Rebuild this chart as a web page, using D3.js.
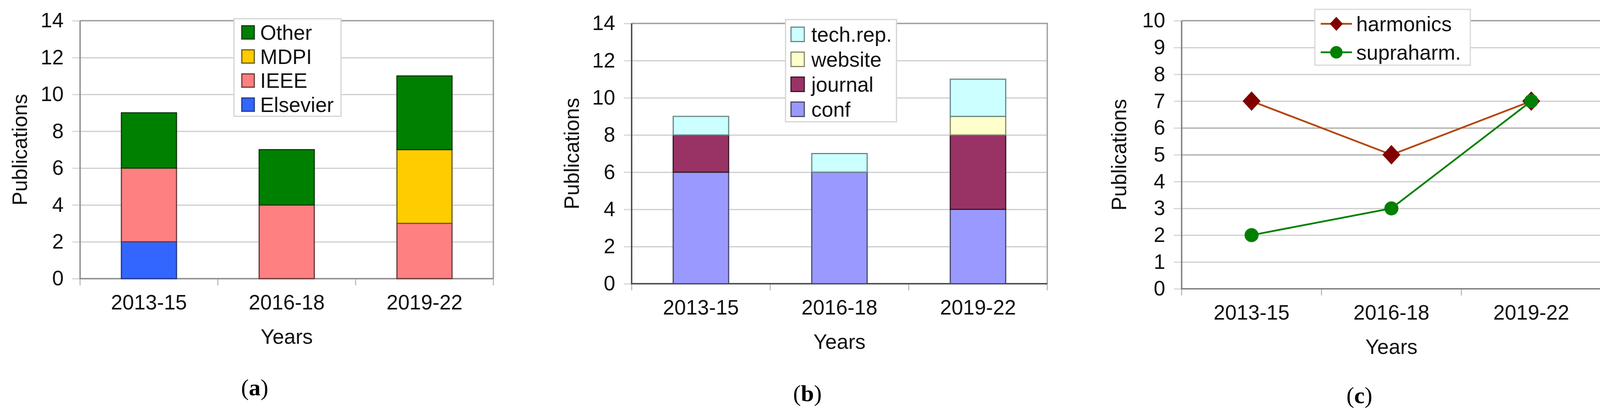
<!DOCTYPE html>
<html>
<head>
<meta charset="utf-8">
<script src="https://cdnjs.cloudflare.com/ajax/libs/d3/7.8.5/d3.min.js"></script>
<style>
  html, body { margin: 0; padding: 0; background: #fff; }
  svg { display: block; }
</style>
</head>
<body>
<div id="chart"></div>
<script>
// ---- data ----
var years = ["2013-15", "2016-18", "2019-22"];

// (a) publishers
var publisherKeys = ["Elsevier", "IEEE", "MDPI", "Other"];
var elsevier = [2, 0, 0];
var ieee     = [4, 4, 3];
var mdpi     = [0, 0, 4];
var other    = [3, 3, 4];

// (b) publication type
var typeKeys = ["conf", "journal", "website", "tech.rep."];
var conf     = [6, 6, 4];
var journal  = [2, 0, 4];
var website  = [0, 0, 1];
var techRep  = [1, 1, 2];

// (c) topic
var harmonics = [7, 5, 7];
var supraharm = [2, 3, 7];

var yTicksBars = [0, 2, 4, 6, 8, 10, 12, 14];
var yTicksLine = [0, 1, 2, 3, 4, 5, 6, 7, 8, 9, 10];

var FONT = "'Liberation Sans', Arial, Helvetica, sans-serif";
var SERIF = "'Liberation Serif', 'Times New Roman', serif";
var FS = 53;

// squarish diamond like the spreadsheet marker
var squareDiamond = {
    draw: function(context, size) {
        var r = Math.sqrt(size / 2);
        context.moveTo(0, -r * 1.04);
        context.lineTo(r * 0.96, 0);
        context.lineTo(0, r * 1.04);
        context.lineTo(-r * 0.96, 0);
        context.closePath();
    }
};

var svg = d3.select("#chart").append("svg")
    .attr("width", 4130)
    .attr("height", 1066)
    .style("background", "#fff");

function drawFrame(box, yMax, yTicks, panelLabel) {
    var x = d3.scaleBand().domain(years).range([box.l, box.r]);
    var y = d3.scaleLinear().domain([0, yMax]).range([box.b, box.t]);
    var g = svg.append("g");

    // gridlines
    g.append("g")
        .attr("transform", "translate(" + box.l + ",0)")
        .call(d3.axisLeft(y).tickValues(yTicks).tickSize(-(box.r - box.l)).tickFormat(""))
        .call(function(a) { a.select(".domain").remove(); })
        .selectAll("line")
        .attr("stroke", function(d) { return (box.darkGrid || []).indexOf(d) >= 0 ? "#a8a8a8" : "#cdcdcd"; })
        .attr("stroke-width", 3);

    // y tick stubs and labels
    var ya = g.append("g")
        .attr("transform", "translate(" + box.l + ",0)")
        .call(d3.axisLeft(y).tickValues(yTicks).tickSize(20).tickPadding(22))
        .attr("font-family", FONT)
        .attr("font-size", FS);
    ya.select(".domain").remove();
    ya.selectAll("line").attr("stroke", "#d6d6d6").attr("stroke-width", 3);
    ya.selectAll("text").attr("fill", "#111");

    // category labels
    var xa = g.append("g")
        .attr("transform", "translate(0," + box.b + ")")
        .call(d3.axisBottom(x).tickSize(0))
        .attr("font-family", FONT)
        .attr("font-size", FS);
    xa.select(".domain").remove();
    xa.selectAll("text").attr("y", 79).attr("dy", 0).attr("fill", "#111");

    // boundary ticks under the axis
    var bounds = years.map(function(d) { return x(d); }).concat([x(years[years.length - 1]) + x.bandwidth()]);
    g.selectAll(".bt").data(bounds).enter().append("line")
        .attr("x1", function(d) { return d; })
        .attr("x2", function(d) { return d; })
        .attr("y1", box.b)
        .attr("y2", box.b + 17)
        .attr("stroke", "#bbb")
        .attr("stroke-width", 3);

    // axis titles
    g.append("text")
        .attr("x", (box.l + box.r) / 2)
        .attr("y", box.b + 167)
        .attr("text-anchor", "middle")
        .attr("font-family", FONT)
        .attr("font-size", FS)
        .attr("fill", "#111")
        .text("Years");

    g.append("text")
        .attr("transform", "translate(" + (box.l - box.yTitle) + "," + ((box.t + box.b) / 2) + ") rotate(-90)")
        .attr("text-anchor", "middle")
        .attr("dy", "0.35em")
        .attr("font-family", FONT)
        .attr("font-size", FS)
        .attr("fill", "#111")
        .text("Publications");

    // panel label (a)/(b)/(c)
    var pl = svg.append("text")
        .attr("x", (box.l + box.r) / 2 - 82)
        .attr("y", box.labelY)
        .attr("text-anchor", "middle")
        .attr("font-family", SERIF)
        .attr("font-size", 60)
        .attr("fill", "#000");
    pl.append("tspan").text("(");
    pl.append("tspan").attr("font-weight", "bold").text(panelLabel);
    pl.append("tspan").text(")");

    return { x: x, y: y, g: g };
}

function drawBorder(box) {
    var b = svg.append("g").attr("stroke-width", 3.5).attr("fill", "none");
    // top + right
    b.append("path")
        .attr("d", "M" + box.l + "," + box.t + "H" + box.r + "V" + box.b)
        .attr("stroke", "#a2a2a2");
    // left + bottom (axis lines)
    b.append("path")
        .attr("d", "M" + box.l + "," + box.t + "V" + box.b + "H" + box.r)
        .attr("stroke", box.axisColor || "#8e8e8e");
}

function drawStacked(box, keys, series, colors, strokes, panelLabel, legend) {
    var f = drawFrame(box, 14, yTicksBars, panelLabel);
    var rows = years.map(function(yr, i) {
        var r = { year: yr };
        keys.forEach(function(k, j) { r[k] = series[j][i]; });
        return r;
    });
    var stacked = d3.stack().keys(keys)(rows);
    var bw = f.x.bandwidth();

    drawBorder(box);

    var layer = svg.append("g").selectAll("g").data(stacked).enter().append("g")
        .attr("fill", function(d, i) { return colors[i]; })
        .attr("stroke", function(d, i) { return strokes[i]; });
    layer.selectAll("rect")
        .data(function(d) { return d.filter(function(p) { return p[1] > p[0]; }); })
        .enter().append("rect")
        .attr("x", function(d) { return f.x(d.data.year) + bw * 0.3; })
        .attr("width", bw * 0.4)
        .attr("y", function(d) { return f.y(d[1]); })
        .attr("height", function(d) { return f.y(d[0]) - f.y(d[1]); })
        .attr("stroke-width", 3);

    // legend (top series first)
    var lg = svg.append("g");
    lg.append("rect")
        .attr("x", legend.l).attr("y", legend.t)
        .attr("width", legend.r - legend.l).attr("height", legend.b - legend.t)
        .attr("fill", "#fff").attr("stroke", "#d4d4d4").attr("stroke-width", 3);
    var order = keys.map(function(k, i) { return i; }).reverse();
    var item = lg.selectAll(".it").data(order).enter().append("g")
        .attr("transform", function(d, n) { return "translate(0," + (legend.row0 + n * legend.step) + ")"; });
    item.append("rect")
        .attr("x", legend.sx).attr("y", -legend.sh / 2)
        .attr("width", legend.sw).attr("height", legend.sh)
        .attr("fill", function(d) { return colors[d]; })
        .attr("stroke", function(d) { return strokes[d]; })
        .attr("stroke-width", 3);
    item.append("text")
        .attr("x", legend.tx)
        .attr("dy", "0.36em")
        .attr("font-family", FONT)
        .attr("font-size", FS)
        .attr("fill", "#111")
        .text(function(d) { return keys[d]; });
}

// (a)
drawStacked(
    { l: 205, r: 1263, t: 53, b: 714, yTitle: 155, labelY: 1013, axisColor: "#8e8e8e" },
    publisherKeys,
    [elsevier, ieee, mdpi, other],
    ["#3366ff", "#ff8080", "#ffcc00", "#008000"],
    ["#1f3a8a", "#6a3a3a", "#6b5a1a", "#0d3d0d"],
    "a",
    { l: 599, r: 873, t: 48, b: 298, row0: 83, step: 61.7, sx: 619, sw: 32, sh: 34, tx: 666 }
);

// (b)
drawStacked(
    { l: 1617, r: 2681, t: 60, b: 727, yTitle: 154, labelY: 1028, axisColor: "#444" },
    typeKeys,
    [conf, journal, website, techRep],
    ["#9999ff", "#993366", "#ffffcc", "#ccffff"],
    ["#4a4a6a", "#3a1a28", "#8a8a6a", "#6a8a8a"],
    "b",
    { l: 2011, r: 2295, t: 50, b: 312, row0: 88, step: 64, sx: 2025, sw: 34, sh: 37, tx: 2077 }
);

// (c)
(function() {
    var box = { l: 3025, r: 4099, t: 53, b: 740, yTitle: 161, labelY: 1033, axisColor: "#7e7e7e", darkGrid: [5, 6] };
    var f = drawFrame(box, 10, yTicksLine, "c");
    drawBorder(box);
    var bw = f.x.bandwidth();
    var cx = function(d, i) { return f.x(years[i]) + bw / 2; };

    var series = [
        { name: "harmonics", values: harmonics, line: "#b5460f", mark: "#800000", shape: squareDiamond, size: 1150, lsize: 600 },
        { name: "supraharm.", values: supraharm, line: "#008000", mark: "#008000", shape: d3.symbolCircle, size: 1020, lsize: 800 }
    ];
    var line = d3.line()
        .x(function(d, i) { return cx(d, i); })
        .y(function(d) { return f.y(d); });

    series.forEach(function(s) {
        svg.append("path")
            .attr("d", line(s.values))
            .attr("fill", "none")
            .attr("stroke", s.line)
            .attr("stroke-width", 4.5);
    });
    series.forEach(function(s) {
        svg.append("g").selectAll("path").data(s.values).enter().append("path")
            .attr("transform", function(d, i) { return "translate(" + cx(d, i) + "," + f.y(d) + ")"; })
            .attr("d", d3.symbol().type(s.shape).size(s.size))
            .attr("fill", s.mark);
    });

    // legend
    var lg = svg.append("g");
    lg.append("rect")
        .attr("x", 3366).attr("y", 24).attr("width", 398).attr("height", 143)
        .attr("fill", "#fff").attr("stroke", "#d8d8d8").attr("stroke-width", 3);
    var item = lg.selectAll(".it").data(series).enter().append("g")
        .attr("transform", function(d, n) { return "translate(0," + (61 + n * 73) + ")"; });
    item.append("line")
        .attr("x1", 3381).attr("x2", 3461)
        .attr("stroke", function(d) { return d.line; })
        .attr("stroke-width", 4.5);
    item.append("path")
        .attr("transform", "translate(3421,0)")
        .attr("d", function(d) { return d3.symbol().type(d.shape).size(d.lsize)(); })
        .attr("fill", function(d) { return d.mark; });
    item.append("text")
        .attr("x", 3472)
        .attr("dy", "0.36em")
        .attr("font-family", FONT)
        .attr("font-size", FS)
        .attr("fill", "#111")
        .text(function(d) { return d.name; });
})();
</script>
</body>
</html>
